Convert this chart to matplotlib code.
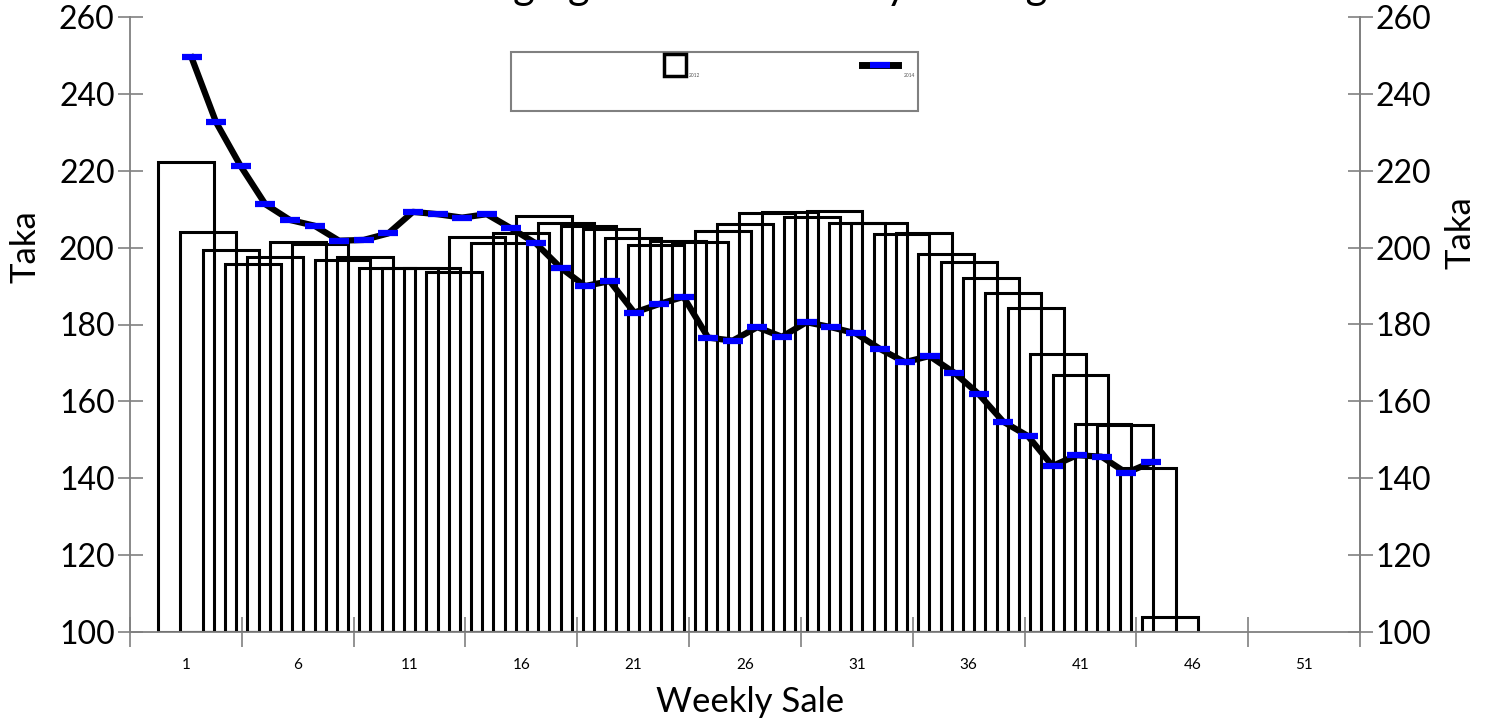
import numpy as np
import matplotlib
matplotlib.use("Agg")
import matplotlib.pyplot as plt
from matplotlib.patches import Rectangle
from matplotlib.lines import Line2D

plt.rcParams['font.family'] = ['Lato', 'DejaVu Sans']

# weekly sale bars (week 1..45)
weeks = np.arange(1, 46)
bar_values = [222.2, 204.0, 199.4, 195.7, 197.6, 201.5, 200.9, 196.8, 197.5, 194.6,
              194.6, 194.6, 193.6, 202.8, 201.1, 203.9, 208.3, 206.5, 205.5, 204.8,
              202.4, 200.6, 201.8, 201.5, 204.4, 206.2, 209.0, 209.3, 208.0, 209.6,
              206.5, 206.5, 203.6, 203.7, 198.3, 196.2, 192.2, 188.1, 184.4, 172.3,
              166.9, 154.2, 153.8, 142.6, 104.0]

# second series (line, 40 points on its own x scale)
line_x = np.arange(1, 41)
line_values = [249.5, 232.6, 221.2, 211.3, 207.2, 205.7, 201.8, 202.0, 203.7, 209.3,
               208.7, 207.8, 208.7, 205.0, 201.1, 194.8, 190.0, 191.3, 183.1, 185.3,
               187.2, 176.6, 175.8, 179.3, 176.8, 180.6, 179.3, 177.7, 173.6, 170.2,
               171.8, 167.5, 161.9, 154.7, 151.0, 143.2, 146.0, 145.6, 141.4, 144.1]

x_labels = [1, 6, 11, 16, 21, 26, 31, 36, 41, 46, 51]
y_ticks = [100, 120, 140, 160, 180, 200, 220, 240, 260]
legend_labels = ["2012", "2014"]
title = "Changing Trend of Weekly Average"

W, H = 1488, 723
grey = "#808080"

fig = plt.figure(figsize=(W / 100, H / 100), dpi=100)
pos = [130 / W, 1 - 632 / H, 1230 / W, 615 / H]
ax = fig.add_axes(pos)

base = 100
ax.bar(weeks, np.array(bar_values) - base, bottom=base, width=2.5,
       fill=False, edgecolor="black", linewidth=2.2, zorder=2)

ax.set_xlim(-1.5, 53.5)
ax.set_ylim(100, 260)
ax.set_xticks(np.arange(-1.5, 54, 5))
ax.set_xticklabels([])
ax.set_xticks(x_labels, minor=True)
ax.set_xticklabels([str(v) for v in x_labels], minor=True)
ax.tick_params(axis="x", which="major", direction="inout", length=22, width=1.2, color=grey)
ax.tick_params(axis="x", which="minor", length=0, pad=19, labelsize=11)
ax.set_yticks(y_ticks)
ax.tick_params(axis="y", direction="inout", length=18, width=1.2, color=grey,
               labelsize=23, pad=2)

ax.spines["top"].set_visible(False)
for side in ["left", "right", "bottom"]:
    ax.spines[side].set_color(grey)
    ax.spines[side].set_linewidth(1.3)

ax.set_xlabel("Weekly Sale", fontsize=25)
ax.xaxis.set_label_coords(0.504, -0.088)
ax.set_ylabel("Taka", fontsize=25)
ax.yaxis.set_label_coords(-0.072, 0.626)

ax_r = ax.twinx()
ax_r.set_ylim(100, 260)
ax_r.set_yticks(y_ticks)
ax_r.tick_params(axis="y", direction="inout", length=18, width=1.2, color=grey,
                 labelsize=23, pad=2)
for side in ["top", "left", "bottom"]:
    ax_r.spines[side].set_visible(False)
ax_r.spines["right"].set_color(grey)
ax_r.spines["right"].set_linewidth(1.3)
ax_r.set_ylabel("Taka", fontsize=25)
ax_r.yaxis.set_label_coords(1.069, 0.65)

# line on its own x scale, same plot area
ax_l = fig.add_axes(pos, frameon=False)
ax_l.plot(line_x, line_values, color="black", linewidth=4.5, solid_joinstyle="round",
          marker="_", markersize=14, markeredgewidth=4.5, markeredgecolor="blue", zorder=3)
ax_l.set_xlim(-1.5, 48.5)
ax_l.set_ylim(100, 260)
ax_l.axis("off")

# legend box
ax_l.add_patch(Rectangle((0.310, 0.847), 0.331, 0.096, transform=ax_l.transAxes,
                         fill=False, edgecolor=grey, linewidth=1.5, zorder=4))
ax_l.add_line(Line2D([0.443], [0.922], transform=ax_l.transAxes, marker="s",
                     markersize=16, markerfacecolor="white", markeredgecolor="black",
                     markeredgewidth=2.5, linestyle="none", zorder=5))
ax_l.text(0.4545, 0.905, legend_labels[0], transform=ax_l.transAxes, fontsize=3.5,
          color="#555555", va="center")
ax_l.add_line(Line2D([0.595, 0.624], [0.922, 0.922], transform=ax_l.transAxes,
                     color="black", linewidth=5, zorder=5))
ax_l.add_line(Line2D([0.6095], [0.922], transform=ax_l.transAxes, marker="_",
                     markersize=14, markeredgewidth=4.5, markeredgecolor="blue",
                     linestyle="none", zorder=6))
ax_l.text(0.629, 0.905, legend_labels[1], transform=ax_l.transAxes, fontsize=3.5,
          color="#555555", va="center")

# title sits above the top edge, only its descenders show (as in the reference)
fig.text(0.5, 1 + 1 / H, title, ha="center", va="baseline", fontsize=30)

fig.savefig("out.png", dpi=100)
